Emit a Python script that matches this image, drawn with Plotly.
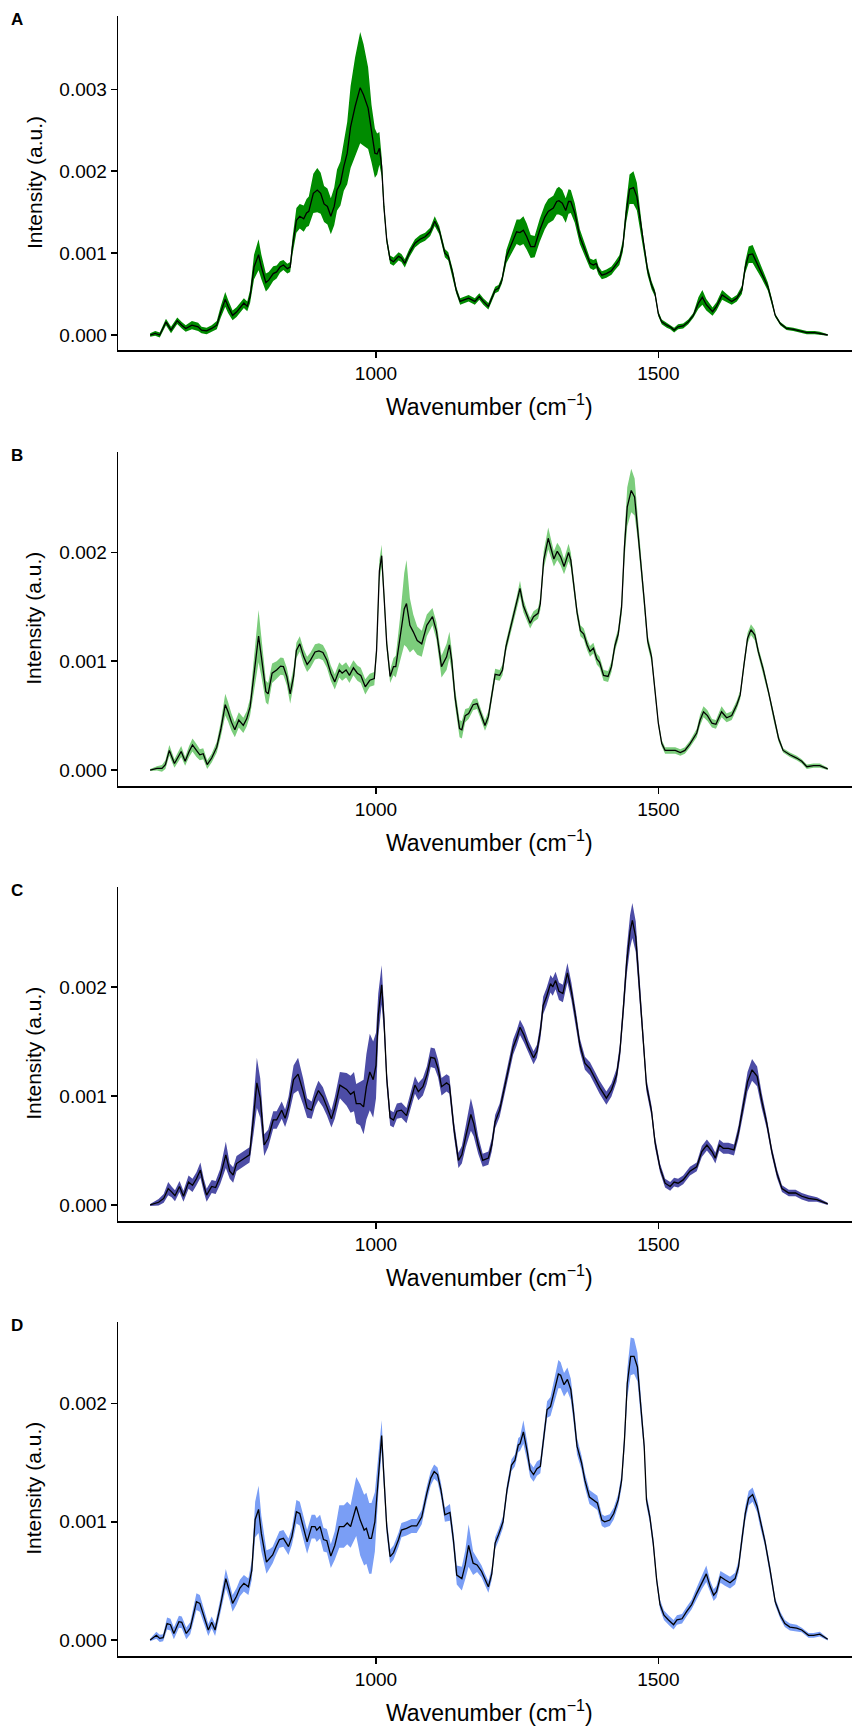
import numpy as np
import plotly.graph_objects as go

# ---------------- data (intensity values in units of 1e-3 a.u.) ----------------
wn_A = [600,609,617,628,637,648,656,663,674,685,
        691,700,709,718,725,733,738,746,753,759,
        766,772,777,784,792,797,805,810,818,824,
        830,836,843,848,852,859,865,872,877,881,
        889,896,902,908,914,920,926,931,937,943,
        949,955,963,972,978,986,992,998,1002,1006,
        1010,1014,1019,1025,1031,1040,1045,1051,1059,1069,
        1078,1087,1096,1104,1112,1122,1128,1136,1142,1149,
        1156,1164,1175,1183,1190,1199,1205,1211,1217,1223,
        1231,1240,1249,1255,1261,1267,1274,1281,1290,1299,
        1305,1314,1320,1324,1330,1336,1341,1345,1352,1361,
        1370,1379,1385,1390,1394,1400,1408,1417,1423,1431,
        1437,1443,1449,1456,1462,1468,1474,1481,1488,1494,
        1500,1506,1515,1521,1528,1535,1544,1553,1562,1571,
        1578,1585,1596,1603,1613,1621,1630,1639,1648,1654,
        1660,1667,1675,1683,1694,1701,1707,1716,1727,1739,
        1751,1763,1777,1786,1800]
mean_A = [0.0,0.02,0.0,0.16,0.06,0.175,0.12,0.08,0.12,0.10,
          0.06,0.05,0.08,0.12,0.28,0.435,0.35,0.24,0.28,0.33,
          0.39,0.35,0.47,0.83,0.98,0.83,0.64,0.67,0.75,0.77,
          0.83,0.855,0.81,0.83,1.08,1.40,1.45,1.42,1.49,1.51,
          1.73,1.77,1.73,1.60,1.57,1.45,1.57,1.77,1.85,2.06,
          2.22,2.54,2.79,3.02,2.93,2.77,2.46,2.22,2.21,2.28,
          2.06,1.57,1.16,0.92,0.895,0.96,0.94,0.875,1.0,1.12,
          1.17,1.20,1.26,1.39,1.28,1.00,0.96,0.75,0.55,0.41,
          0.43,0.45,0.41,0.47,0.41,0.35,0.45,0.55,0.57,0.67,
          0.96,1.12,1.26,1.25,1.28,1.20,1.08,1.08,1.28,1.44,
          1.51,1.55,1.63,1.64,1.61,1.52,1.63,1.63,1.49,1.20,
          1.04,0.875,0.855,0.875,0.79,0.73,0.75,0.785,0.84,0.915,
          1.08,1.49,1.78,1.80,1.69,1.40,1.08,0.79,0.61,0.51,
          0.26,0.16,0.12,0.10,0.06,0.10,0.11,0.16,0.24,0.39,
          0.46,0.37,0.285,0.35,0.49,0.45,0.41,0.45,0.55,0.83,
          0.98,0.99,0.875,0.75,0.59,0.41,0.24,0.14,0.08,0.07,
          0.05,0.03,0.03,0.02,0.0]
sd_A = [0.02,0.03,0.03,0.04,0.04,0.04,0.04,0.04,0.05,0.05,
        0.04,0.04,0.04,0.05,0.07,0.09,0.08,0.06,0.06,0.06,
        0.06,0.06,0.08,0.15,0.19,0.15,0.11,0.10,0.09,0.08,
        0.07,0.06,0.06,0.06,0.10,0.15,0.15,0.16,0.17,0.18,
        0.24,0.27,0.25,0.22,0.22,0.22,0.23,0.25,0.27,0.30,
        0.38,0.50,0.60,0.68,0.62,0.50,0.35,0.30,0.25,0.20,
        0.12,0.07,0.05,0.05,0.05,0.05,0.05,0.05,0.05,0.05,
        0.05,0.05,0.05,0.06,0.05,0.05,0.05,0.05,0.04,0.04,
        0.04,0.04,0.04,0.04,0.04,0.04,0.04,0.04,0.04,0.04,
        0.08,0.12,0.15,0.16,0.17,0.16,0.14,0.13,0.14,0.15,
        0.15,0.15,0.16,0.17,0.16,0.15,0.15,0.14,0.12,0.09,
        0.07,0.06,0.06,0.06,0.05,0.05,0.05,0.05,0.05,0.06,
        0.07,0.12,0.18,0.20,0.17,0.12,0.08,0.06,0.05,0.04,
        0.03,0.03,0.03,0.03,0.03,0.03,0.03,0.03,0.03,0.07,
        0.09,0.07,0.05,0.05,0.06,0.05,0.04,0.04,0.05,0.07,
        0.10,0.11,0.09,0.06,0.05,0.04,0.02,0.02,0.02,0.02,
        0.02,0.02,0.02,0.02,0.01]

wn_B = [600,612,621,627,634,643,655,662,669,675,
        682,688,694,701,709,718,725,733,738,744,
        750,757,765,771,777,784,792,797,805,809,
        816,824,831,836,842,848,854,859,865,872,
        878,884,892,899,906,913,920,927,935,940,
        947,953,960,967,973,981,989,997,1001,1006,
        1010,1014,1019,1025,1031,1035,1043,1050,1054,1060,
        1066,1073,1081,1090,1100,1107,1116,1125,1130,1134,
        1140,1148,1152,1158,1164,1172,1179,1187,1193,1199,
        1205,1211,1219,1224,1230,1237,1243,1249,1255,1261,
        1268,1273,1279,1287,1291,1297,1305,1311,1315,1321,
        1327,1333,1341,1345,1350,1356,1362,1368,1374,1379,
        1385,1391,1396,1403,1411,1417,1423,1429,1435,1440,
        1445,1452,1458,1463,1469,1475,1481,1488,1494,1500,
        1506,1512,1521,1530,1539,1547,1556,1568,1574,1580,
        1587,1595,1602,1612,1621,1630,1639,1645,1652,1658,
        1664,1671,1677,1686,1695,1704,1713,1721,1733,1745,
        1754,1763,1775,1786,1800]
mean_B = [0,0.015,0.015,0.05,0.18,0.06,0.17,0.08,0.17,0.23,
          0.18,0.14,0.15,0.05,0.11,0.21,0.37,0.60,0.535,0.44,
          0.37,0.46,0.41,0.47,0.58,0.89,1.23,1.04,0.72,0.70,
          0.89,0.92,0.955,0.95,0.86,0.70,0.86,1.10,1.16,1.04,
          0.97,1.01,1.085,1.095,1.08,1.01,0.89,0.81,0.92,0.89,
          0.92,0.87,0.94,0.89,0.87,0.765,0.825,0.84,1.10,1.83,
          1.97,1.62,1.16,0.86,0.95,0.95,1.22,1.48,1.53,1.33,
          1.27,1.19,1.16,1.33,1.41,1.28,0.95,1.04,1.15,1.01,
          0.67,0.38,0.37,0.50,0.52,0.60,0.61,0.49,0.41,0.49,
          0.67,0.88,0.87,0.92,1.13,1.28,1.39,1.53,1.67,1.51,
          1.41,1.35,1.41,1.44,1.53,1.93,2.13,2.02,1.94,2.01,
          1.96,1.87,2.00,1.93,1.71,1.45,1.28,1.25,1.15,1.09,
          1.12,1.02,0.99,0.87,0.86,0.95,1.14,1.25,1.50,2.05,
          2.42,2.57,2.51,2.26,1.90,1.56,1.19,1.04,0.70,0.43,
          0.245,0.18,0.18,0.18,0.16,0.18,0.24,0.34,0.46,0.535,
          0.50,0.43,0.42,0.535,0.48,0.50,0.60,0.69,0.98,1.21,
          1.29,1.24,1.09,0.92,0.72,0.49,0.29,0.18,0.14,0.11,
          0.08,0.03,0.04,0.04,0.01]
sd_B = [0.01,0.02,0.03,0.04,0.05,0.04,0.05,0.04,0.05,0.06,
        0.06,0.05,0.05,0.04,0.04,0.05,0.07,0.10,0.09,0.08,
        0.07,0.07,0.07,0.07,0.08,0.15,0.24,0.18,0.10,0.10,
        0.09,0.08,0.08,0.08,0.08,0.09,0.08,0.07,0.07,0.07,
        0.07,0.07,0.07,0.07,0.07,0.07,0.07,0.07,0.07,0.07,
        0.07,0.07,0.07,0.07,0.07,0.07,0.06,0.06,0.06,0.10,
        0.10,0.07,0.06,0.06,0.08,0.10,0.20,0.33,0.40,0.25,
        0.16,0.13,0.12,0.10,0.08,0.08,0.10,0.12,0.12,0.10,
        0.08,0.08,0.08,0.06,0.05,0.05,0.05,0.05,0.05,0.05,
        0.05,0.05,0.05,0.05,0.05,0.05,0.06,0.06,0.07,0.06,
        0.05,0.05,0.05,0.05,0.06,0.08,0.10,0.08,0.07,0.08,
        0.08,0.07,0.08,0.07,0.06,0.05,0.05,0.05,0.05,0.05,
        0.05,0.05,0.05,0.05,0.05,0.05,0.05,0.05,0.07,0.12,
        0.18,0.20,0.17,0.12,0.08,0.06,0.05,0.05,0.04,0.03,
        0.03,0.03,0.03,0.03,0.03,0.03,0.03,0.04,0.05,0.05,
        0.05,0.04,0.04,0.05,0.04,0.04,0.04,0.04,0.04,0.05,
        0.05,0.05,0.04,0.04,0.03,0.03,0.03,0.02,0.02,0.02,
        0.02,0.02,0.02,0.02,0.01]

wn_C = [600,615,624,632,638,644,652,659,668,675,
        682,689,695,700,709,716,724,734,741,747,
        753,762,771,776,783,789,795,802,809,818,
        824,833,839,845,854,862,871,878,886,892,
        898,906,913,921,927,936,948,955,961,965,
        972,978,983,989,995,1000,1004,1010,1014,1019,
        1025,1031,1037,1045,1054,1063,1069,1075,1083,1090,
        1097,1104,1110,1116,1125,1130,1138,1146,1152,1159,
        1168,1173,1181,1189,1199,1205,1211,1219,1225,1234,
        1243,1249,1255,1262,1270,1279,1285,1291,1296,1302,
        1309,1313,1318,1324,1331,1339,1346,1354,1361,1370,
        1379,1388,1396,1408,1417,1426,1432,1438,1444,1450,
        1454,1460,1467,1473,1479,1488,1494,1503,1512,1521,
        1528,1535,1544,1556,1568,1577,1586,1595,1601,1608,
        1615,1624,1634,1642,1651,1658,1666,1675,1683,1692,
        1701,1710,1719,1731,1743,1754,1766,1781,1800]
mean_C = [0,0.025,0.06,0.15,0.12,0.085,0.17,0.08,0.21,0.18,
          0.24,0.32,0.18,0.09,0.17,0.16,0.26,0.46,0.31,0.275,
          0.38,0.41,0.44,0.46,0.80,1.12,0.98,0.55,0.61,0.78,
          0.78,0.87,0.795,0.90,1.15,1.20,1.04,0.89,0.87,0.98,
          1.05,0.99,0.90,0.79,0.89,1.10,1.06,1.015,1.04,0.93,
          0.93,0.90,1.085,1.22,1.15,1.28,1.74,2.02,1.71,1.16,
          0.80,0.78,0.86,0.87,0.82,0.99,1.10,1.04,1.085,1.19,
          1.355,1.345,1.25,1.085,1.12,1.10,0.70,0.41,0.46,0.63,
          0.83,0.75,0.55,0.41,0.43,0.55,0.765,0.87,1.01,1.25,
          1.45,1.53,1.63,1.56,1.45,1.35,1.41,1.59,1.83,1.91,
          2.03,2.00,2.06,1.96,1.94,2.13,1.96,1.71,1.47,1.30,
          1.25,1.16,1.08,0.98,1.055,1.19,1.41,1.80,2.23,2.51,
          2.61,2.46,1.99,1.53,1.10,0.86,0.58,0.34,0.20,0.17,
          0.21,0.20,0.23,0.31,0.35,0.49,0.55,0.49,0.43,0.55,
          0.52,0.52,0.505,0.67,0.92,1.13,1.24,1.18,0.96,0.75,
          0.49,0.29,0.15,0.11,0.11,0.08,0.06,0.05,0.01]
sd_C = [0.01,0.03,0.04,0.06,0.05,0.05,0.05,0.05,0.06,0.06,
        0.06,0.07,0.06,0.06,0.06,0.06,0.07,0.12,0.07,0.07,
        0.07,0.07,0.07,0.07,0.15,0.23,0.18,0.10,0.08,0.08,
        0.08,0.08,0.08,0.09,0.13,0.15,0.12,0.09,0.08,0.08,
        0.09,0.09,0.08,0.08,0.10,0.12,0.15,0.17,0.18,0.18,
        0.20,0.25,0.30,0.35,0.35,0.30,0.20,0.18,0.12,0.08,
        0.07,0.07,0.07,0.07,0.07,0.07,0.08,0.08,0.08,0.08,
        0.09,0.09,0.08,0.08,0.08,0.08,0.07,0.07,0.08,0.10,
        0.15,0.12,0.08,0.06,0.06,0.06,0.06,0.06,0.06,0.06,
        0.07,0.07,0.07,0.07,0.06,0.06,0.06,0.07,0.08,0.08,
        0.08,0.08,0.08,0.08,0.08,0.09,0.08,0.07,0.06,0.06,
        0.06,0.06,0.06,0.06,0.06,0.06,0.07,0.09,0.12,0.15,
        0.16,0.14,0.10,0.07,0.06,0.05,0.05,0.04,0.04,0.04,
        0.04,0.04,0.04,0.04,0.04,0.05,0.05,0.05,0.05,0.05,
        0.05,0.05,0.05,0.06,0.07,0.09,0.10,0.09,0.07,0.05,
        0.04,0.04,0.03,0.03,0.03,0.03,0.03,0.02,0.01]

wn_D = [600,611,617,623,630,636,642,651,656,664,
        671,682,688,695,703,709,715,724,734,740,
        746,753,759,766,774,780,786,792,797,806,
        812,817,823,829,836,845,851,859,865,872,
        878,886,892,895,901,907,913,920,927,935,
        943,949,955,965,972,979,983,988,992,998,
        1004,1010,1014,1019,1025,1031,1040,1045,1054,1063,
        1072,1081,1090,1097,1103,1109,1115,1122,1131,1137,
        1143,1152,1158,1164,1172,1179,1187,1193,1199,1205,
        1211,1217,1225,1232,1240,1246,1252,1255,1261,1268,
        1273,1279,1285,1291,1296,1303,1309,1317,1323,1327,
        1333,1339,1345,1350,1356,1364,1370,1378,1386,1392,
        1400,1405,1414,1421,1429,1435,1440,1445,1451,1457,
        1463,1469,1475,1479,1485,1491,1497,1503,1510,1518,
        1527,1533,1542,1550,1559,1568,1577,1585,1592,1598,
        1603,1610,1618,1627,1636,1642,1648,1654,1660,1667,
        1675,1680,1689,1698,1707,1716,1724,1733,1745,1754,
        1766,1775,1786,1800]
mean_D = [0,0.04,0.014,0.02,0.14,0.13,0.056,0.155,0.15,0.056,
          0.10,0.325,0.31,0.21,0.085,0.15,0.085,0.28,0.52,0.42,
          0.31,0.37,0.44,0.48,0.45,0.59,1.02,1.105,0.90,0.66,
          0.69,0.72,0.79,0.85,0.86,0.79,0.875,1.085,1.07,0.93,
          0.83,0.96,0.96,0.93,0.96,0.85,0.84,0.71,0.80,0.96,
          0.96,0.99,0.96,1.13,1.015,0.93,0.945,0.86,0.86,1.00,
          1.41,1.73,1.38,0.96,0.705,0.74,0.85,0.93,0.945,0.965,
          0.965,1.04,1.24,1.37,1.425,1.40,1.27,1.06,1.08,0.85,
          0.55,0.52,0.635,0.80,0.65,0.635,0.58,0.51,0.45,0.56,
          0.82,0.89,1.00,1.27,1.48,1.52,1.65,1.66,1.76,1.59,
          1.44,1.40,1.45,1.47,1.69,1.95,1.975,2.12,2.25,2.24,
          2.16,2.205,2.12,1.92,1.64,1.50,1.35,1.21,1.185,1.16,
          1.015,1.00,1.015,1.07,1.185,1.35,1.69,2.17,2.40,2.40,
          2.31,1.975,1.64,1.185,1.04,0.82,0.51,0.30,0.21,0.17,
          0.13,0.17,0.18,0.24,0.30,0.395,0.49,0.56,0.45,0.38,
          0.41,0.535,0.51,0.485,0.52,0.62,0.85,1.07,1.20,1.23,
          1.13,1.015,0.83,0.59,0.325,0.21,0.14,0.11,0.10,0.085,
          0.04,0.04,0.05,0.006]
sd_D = [0.01,0.03,0.03,0.03,0.05,0.05,0.05,0.05,0.05,0.05,
        0.05,0.07,0.07,0.06,0.05,0.05,0.05,0.06,0.08,0.07,
        0.07,0.07,0.07,0.07,0.07,0.08,0.15,0.20,0.15,0.10,
        0.08,0.07,0.07,0.07,0.07,0.07,0.07,0.10,0.10,0.10,
        0.10,0.10,0.10,0.10,0.10,0.10,0.10,0.10,0.12,0.18,
        0.18,0.18,0.18,0.25,0.30,0.30,0.30,0.30,0.30,0.25,
        0.18,0.13,0.10,0.07,0.06,0.06,0.06,0.06,0.06,0.06,
        0.06,0.06,0.06,0.06,0.06,0.06,0.06,0.06,0.07,0.07,
        0.08,0.10,0.12,0.18,0.10,0.06,0.05,0.05,0.05,0.05,
        0.05,0.05,0.05,0.05,0.05,0.05,0.06,0.06,0.10,0.08,
        0.06,0.06,0.06,0.06,0.06,0.07,0.08,0.10,0.12,0.11,
        0.10,0.10,0.09,0.08,0.07,0.06,0.06,0.06,0.06,0.06,
        0.05,0.05,0.05,0.05,0.05,0.06,0.08,0.12,0.16,0.15,
        0.12,0.08,0.06,0.05,0.05,0.05,0.04,0.04,0.04,0.04,
        0.04,0.04,0.04,0.04,0.04,0.05,0.06,0.07,0.05,0.05,
        0.05,0.05,0.05,0.05,0.05,0.05,0.06,0.06,0.06,0.06,
        0.05,0.05,0.04,0.04,0.03,0.03,0.03,0.03,0.03,0.02,
        0.02,0.02,0.02,0.01]

panel_labels = ["A", "B", "C", "D"]
band_colors = ["#008B00", "#7CCD7C", "#4D4DA6", "#7A9EF5"]
x_ticks = [1000, 1500]
y_ticks = [[0, 0.001, 0.002, 0.003], [0, 0.001, 0.002], [0, 0.001, 0.002], [0, 0.001, 0.002]]
x_title = "Wavenumber (cm<sup>−1</sup>)"
y_title = "Intensity (a.u.)"

series = [(wn_A, mean_A, sd_A), (wn_B, mean_B, sd_B), (wn_C, mean_C, sd_C), (wn_D, mean_D, sd_D)]
for w, m, s in series:
    assert len(w) == len(m) == len(s), (len(w), len(m), len(s))

# ---------------- layout geometry (pixels) ----------------
W, H = 852, 1729
FONT = "Liberation Sans, Arial, Helvetica, sans-serif"
x_left_px = 118.3
panel_px = [(16, 350), (451.7, 786), (886.7, 1221), (1321.7, 1656)]
y_ranges = [[-0.000183, 0.003895], [-0.000147, 0.002926], [-0.000147, 0.002920], [-0.000135, 0.002693]]
x_range = [543.6, 1843]

fig = go.Figure()
layout = dict(width=W, height=H, margin=dict(l=0, r=0, t=0, b=0),
              paper_bgcolor="white", plot_bgcolor="white", showlegend=False,
              font=dict(family=FONT, color="black"))
annotations = []

for i, ((w, m, s), col) in enumerate(zip(series, band_colors)):
    k = "" if i == 0 else str(i + 1)
    xa, ya = "x" + k, "y" + k
    w = np.array(w, float)
    m = np.array(m, float) * 1e-3
    s = np.array(s, float) * 1e-3
    fig.add_trace(go.Scatter(x=w, y=m - s, xaxis=xa, yaxis=ya, mode="lines",
                             line=dict(width=0, color=col), hoverinfo="skip"))
    fig.add_trace(go.Scatter(x=w, y=m + s, xaxis=xa, yaxis=ya, mode="lines",
                             line=dict(width=0, color=col), fill="tonexty",
                             fillcolor=col, hoverinfo="skip"))
    fig.add_trace(go.Scatter(x=w, y=m, xaxis=xa, yaxis=ya, mode="lines",
                             line=dict(width=1.3, color="black")))
    top, bot = panel_px[i]
    layout["xaxis" + k] = dict(domain=[x_left_px / W, 1.0], range=x_range, anchor=ya,
                               showline=True, linecolor="black", linewidth=1.6,
                               ticks="outside", ticklen=6, tickwidth=1.6, tickcolor="black",
                               tickvals=x_ticks, ticktext=[str(t) for t in x_ticks],
                               showgrid=False, zeroline=False, fixedrange=True,
                               tickfont=dict(size=19, family=FONT, color="black"))
    layout["yaxis" + k] = dict(domain=[1 - bot / H, 1 - top / H], range=y_ranges[i], anchor=xa,
                               showline=True, linecolor="black", linewidth=1.6,
                               ticks="outside", ticklen=6, tickwidth=1.6, tickcolor="black",
                               tickvals=y_ticks[i], ticktext=["%.3f" % t for t in y_ticks[i]],
                               showgrid=False, zeroline=False, fixedrange=True,
                               tickfont=dict(size=19, family=FONT, color="black"))
    annotations.append(dict(text="<b>%s</b>" % panel_labels[i], x=17 / W, y=1 - (top + 4) / H,
                            xref="paper", yref="paper", showarrow=False,
                            xanchor="center", yanchor="middle",
                            font=dict(size=17, family=FONT, color="black")))
    annotations.append(dict(text=y_title, textangle=-90, x=34 / W, y=1 - (top + bot) / 2 / H,
                            xref="paper", yref="paper", showarrow=False,
                            xanchor="center", yanchor="middle",
                            font=dict(size=21, family=FONT, color="black")))
    annotations.append(dict(text=x_title, x=489 / W, y=1 - (bot + 55) / H,
                            xref="paper", yref="paper", showarrow=False,
                            xanchor="center", yanchor="middle",
                            font=dict(size=23, family=FONT, color="black")))

layout["annotations"] = annotations
fig.update_layout(**layout)
fig.write_html("out.html", config={"displayModeBar": False, "staticPlot": True},
               post_script="document.body.style.margin='0px';document.body.style.overflow='hidden';")
